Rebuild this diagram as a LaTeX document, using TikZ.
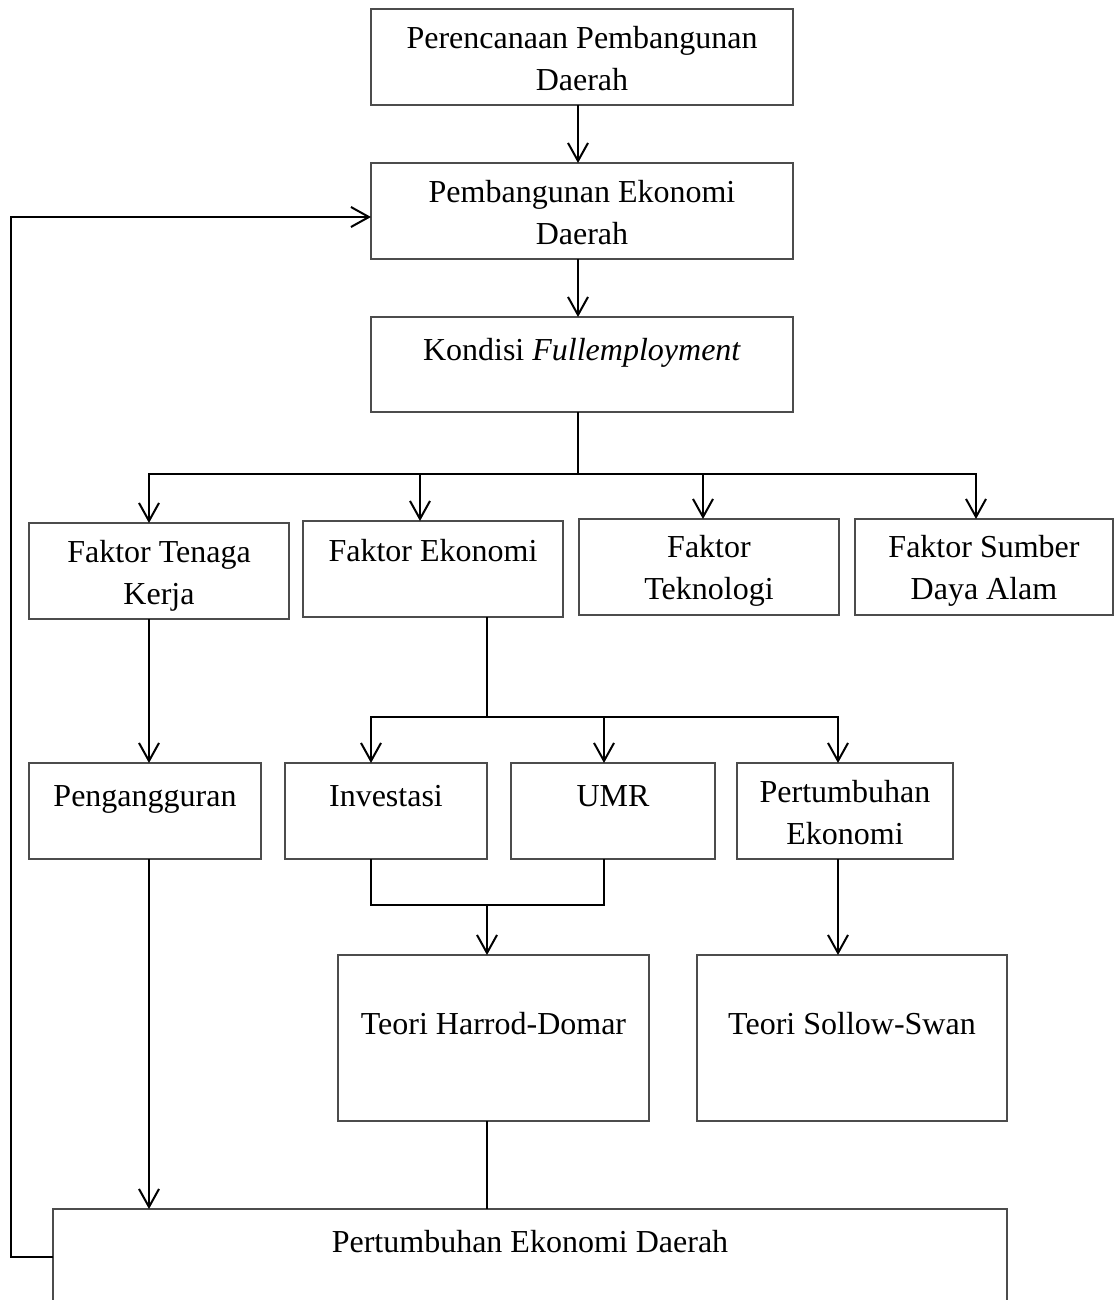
\documentclass[tikz,border=0pt]{standalone}
\usepackage{fontspec}
\setmainfont{Liberation Serif}
\usetikzlibrary{arrows.meta}
\newcommand\mystrut{\rule{0pt}{11.25pt}}
\newcommand\mkbox[7]{%
  \node[box, minimum width={(#4-#2)*0.375pt}, minimum height={(#5-#3)*0.375pt}] (#1) at ({(#2+#4)/2},{(#3+#5)/2}) {};
  \node[txt] (#1t) at ({(#2+#4)/2},{#6-30}) {\mystrut#7};}
\begin{document}
\begin{tikzpicture}[x=0.375pt,y=-0.375pt,
  box/.style={draw=black!70, line width=0.45pt, inner sep=0pt, outer sep=0pt},
  txt/.style={anchor=north, inner sep=0pt, outer sep=0pt, align=center, font=\fontsize{12pt}{15.94pt}\selectfont},
  conn/.style={line width=0.75pt, black},
  arr/.style={conn, -{Straight Barb[length=6.75pt,width=7.5pt]}}]
\useasboundingbox (0,0) rectangle (1114,1300);
\clip (0,0) rectangle (1114,1300);
\fill[white] (0,0) rectangle (1114,1300);

\mkbox{b1}{371}{9}{793}{105}{48}{Perencanaan Pembangunan\\Daerah}
\mkbox{b2}{371}{163}{793}{259}{202}{Pembangunan Ekonomi\\Daerah}
\mkbox{b3}{371}{317}{793}{412}{360}{Kondisi \textit{Fullemployment}}
\mkbox{ftk}{29}{523}{289}{619}{562}{Faktor Tenaga\\Kerja}
\mkbox{fe}{303}{521}{563}{617}{561}{Faktor Ekonomi}
\mkbox{ft}{579}{519}{839}{615}{557}{Faktor\\Teknologi}
\mkbox{fsda}{855}{519}{1113}{615}{557}{Faktor Sumber\\Daya Alam}
\mkbox{peng}{29}{763}{261}{859}{806}{Pengangguran}
\mkbox{inv}{285}{763}{487}{859}{806}{Investasi}
\mkbox{umr}{511}{763}{715}{859}{806}{UMR}
\mkbox{pe}{737}{763}{953}{859}{802}{Pertumbuhan\\Ekonomi}
\mkbox{har}{338}{955}{649}{1121}{1034}{Teori Harrod-Domar}
\mkbox{sol}{697}{955}{1007}{1121}{1034}{Teori Sollow-Swan}
\mkbox{bot}{53}{1209}{1007}{1305}{1252}{Pertumbuhan Ekonomi Daerah}

% junction coordinates
\coordinate (cx) at (578,0);
\coordinate (j1) at (578,474);
\coordinate (h1) at (149,474);
\coordinate (h2) at (420,474);
\coordinate (h3) at (703,474);
\coordinate (h4) at (976,474);
\coordinate (j2) at (487,717);
\coordinate (k1) at (371,717);
\coordinate (k2) at (604,717);
\coordinate (k3) at (838,717);
\coordinate (m1) at (487,905);
\coordinate (fb1) at (11,1257);
\coordinate (fb2) at (11,217);

% top chain
\draw[arr] (b1.south -| cx) -- (b2.north -| cx);
\draw[arr] (b2.south -| cx) -- (b3.north -| cx);
\draw[conn] (b3.south -| j1) -- (j1);

% branch to factors
\draw[arr] (j1) -| (h1 |- ftk.north);
\draw[arr] (j1) -| (h4 |- fsda.north);
\draw[arr] (h2) -- (h2 |- fe.north);
\draw[arr] (h3) -- (h3 |- ft.north);

% factor tenaga kerja chain
\draw[arr] (h1 |- ftk.south) -- (h1 |- peng.north);
\draw[arr] (h1 |- peng.south) -- (h1 |- bot.north);

% faktor ekonomi branch
\draw[conn] (j2 |- fe.south) -- (j2);
\draw[arr] (j2) -| (k1 |- inv.north);
\draw[arr] (j2) -| (k3 |- pe.north);
\draw[arr] (k2) -- (k2 |- umr.north);

% merge investasi & UMR
\draw[conn] (k1 |- inv.south) |- (m1) -| (k2 |- umr.south);
\draw[arr] (m1) -- (m1 |- har.north);
\draw[conn] (m1 |- har.south) -- (m1 |- bot.north);

% pertumbuhan ekonomi to sollow
\draw[arr] (k3 |- pe.south) -- (k3 |- sol.north);

% feedback loop
\draw[arr] (bot.west) -- (fb1) -- (fb2) -- (fb2 -| b2.west);
\end{tikzpicture}
\end{document}
